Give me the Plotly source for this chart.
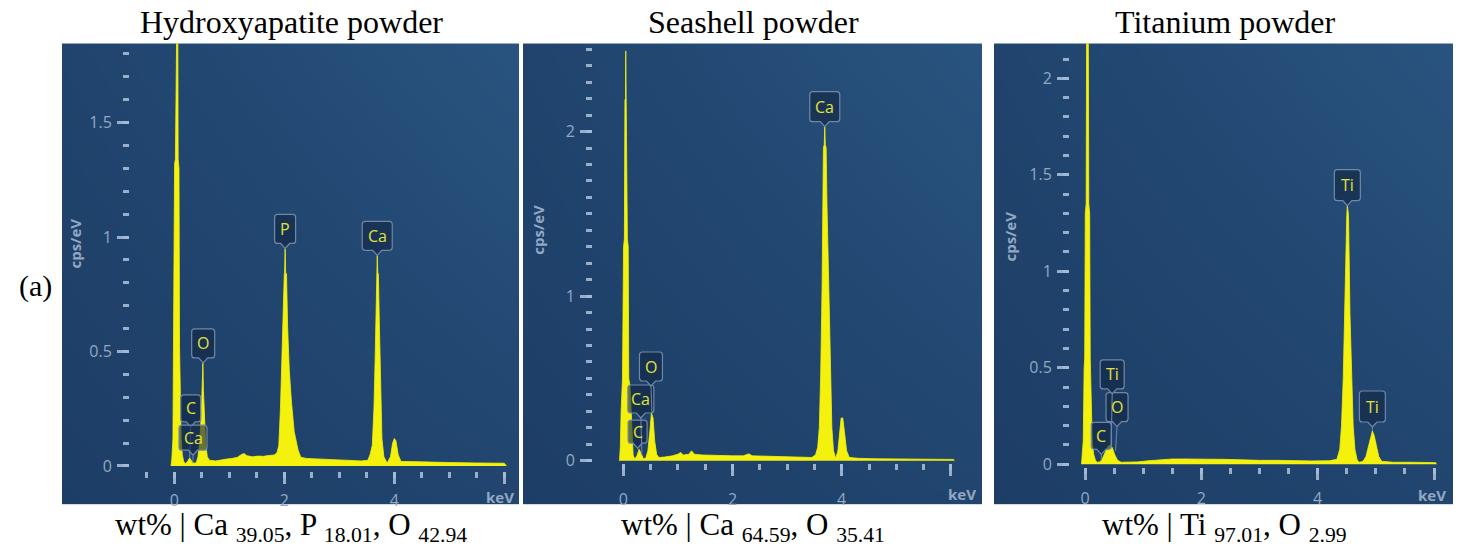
import plotly.graph_objects as go

W, H = 1464, 554

# ---------------- EDS spectra: energy (keV) / intensity (cps/eV) ----------------
hap_kev = [-0.06, -0.045, -0.025, -0.015, -0.005, 0.005, 0.02, 0.03, 0.06, 0.07, 0.085, 0.095,
           0.11, 0.125, 0.145, 0.17, 0.2, 0.24, 0.28, 0.32, 0.36, 0.4, 0.43, 0.46, 0.49, 0.51,
           0.52, 0.53, 0.55, 0.57, 0.6, 0.64, 0.75, 0.85, 0.95, 1.05, 1.15, 1.22, 1.27, 1.32,
           1.42, 1.52, 1.62, 1.72, 1.82, 1.87, 1.9, 1.93, 1.95, 1.97, 1.99, 2.0, 2.005, 2.015,
           2.025, 2.04, 2.06, 2.09, 2.13, 2.18, 2.25, 2.3, 2.4, 2.6, 2.8, 3.0, 3.2, 3.4, 3.52,
           3.56, 3.6, 3.63, 3.65, 3.665, 3.675, 3.68, 3.69, 3.7, 3.71, 3.73, 3.755, 3.775, 3.81,
           3.87, 3.93, 3.97, 4.0, 4.03, 4.07, 4.12, 4.3, 4.6, 5.0, 5.5, 6.0, 6.04]
hap_cps = [0.0, 0.03, 0.12, 0.5, 0.52, 1.32, 1.34, 2.3, 2.3, 1.34, 1.3, 0.52,
           0.3, 0.12, 0.05, 0.02, 0.01, 0.02, 0.035, 0.02, 0.012, 0.015, 0.04, 0.1, 0.22, 0.33,
           0.45, 0.33, 0.22, 0.1, 0.04, 0.025, 0.022, 0.027, 0.03, 0.033, 0.038, 0.05, 0.054, 0.045,
           0.04, 0.043, 0.042, 0.046, 0.048, 0.06, 0.09, 0.25, 0.45, 0.6, 0.75, 0.84, 0.84, 0.95,
           0.84, 0.84, 0.61, 0.42, 0.28, 0.15, 0.07, 0.038, 0.033, 0.031, 0.028, 0.026, 0.024, 0.022, 0.025,
           0.05, 0.09, 0.25, 0.45, 0.65, 0.84, 0.84, 0.92, 0.84, 0.84, 0.6, 0.35, 0.12, 0.04,
           0.013, 0.04, 0.1, 0.12, 0.11, 0.05, 0.02, 0.019, 0.016, 0.015, 0.013, 0.012, 0.0]

shell_kev = [-0.07, -0.055, -0.04, -0.03, -0.015, 0.005, 0.02, 0.03, 0.04, 0.045, 0.05, 0.06,
             0.075, 0.09, 0.1, 0.125, 0.14, 0.16, 0.18, 0.21, 0.25, 0.29, 0.33, 0.37, 0.41, 0.45,
             0.49, 0.515, 0.545, 0.575, 0.61, 0.65, 0.75, 0.9, 1.0, 1.05, 1.1, 1.2, 1.25, 1.3,
             1.45, 1.6, 1.8, 2.0, 2.2, 2.3, 2.36, 2.6, 2.9, 3.2, 3.45, 3.52, 3.56, 3.59, 3.615,
             3.64, 3.655, 3.665, 3.68, 3.69, 3.7, 3.715, 3.73, 3.76, 3.79, 3.82, 3.85, 3.89, 3.93,
             3.96, 3.99, 4.02, 4.05, 4.09, 4.14, 4.3, 4.6, 5.0, 5.5, 6.05, 6.06]
shell_cps = [0.0, 0.08, 0.3, 0.47, 0.5, 1.3, 1.35, 2.19, 2.2, 2.49, 2.2, 2.19,
             1.35, 1.3, 0.5, 0.45, 0.3, 0.11, 0.035, 0.01, 0.03, 0.07, 0.04, 0.012, 0.015, 0.06,
             0.19, 0.29, 0.26, 0.12, 0.04, 0.02, 0.022, 0.03, 0.04, 0.05, 0.035, 0.04, 0.06, 0.04,
             0.035, 0.033, 0.032, 0.03, 0.03, 0.042, 0.03, 0.028, 0.025, 0.022, 0.02, 0.035, 0.08, 0.2, 0.52,
             1.04, 1.56, 1.9, 1.92, 2.03, 1.92, 1.9, 1.56, 1.04, 0.52, 0.2, 0.06, 0.015, 0.06,
             0.18, 0.26, 0.26, 0.18, 0.06, 0.02, 0.015, 0.012, 0.011, 0.01, 0.008, 0.0]

ti_kev = [-0.06, -0.045, -0.03, -0.015, -0.005, 0.005, 0.02, 0.03, 0.055, 0.065, 0.08, 0.09,
          0.105, 0.125, 0.15, 0.18, 0.21, 0.26, 0.3, 0.34, 0.39, 0.43, 0.47, 0.51, 0.56, 0.62,
          0.75, 0.9, 1.1, 1.3, 1.5, 1.7, 1.9, 2.1, 2.4, 2.7, 3.0, 3.3, 3.6, 3.9, 4.2, 4.33,
          4.38, 4.41, 4.44, 4.465, 4.49, 4.5, 4.51, 4.52, 4.53, 4.555, 4.58, 4.61, 4.64, 4.68,
          4.72, 4.78, 4.83, 4.88, 4.92, 4.94, 4.97, 5.01, 5.05, 5.1, 5.3, 5.6, 6.03, 6.04]
ti_cps = [0.0, 0.05, 0.12, 0.5, 0.55, 1.3, 1.35, 2.5, 2.5, 1.35, 1.3, 0.55,
          0.3, 0.11, 0.05, 0.02, 0.01, 0.012, 0.03, 0.06, 0.09, 0.1, 0.085, 0.05, 0.02, 0.01,
          0.01, 0.012, 0.018, 0.022, 0.027, 0.027, 0.028, 0.026, 0.025, 0.022, 0.02, 0.02, 0.018, 0.017, 0.018, 0.025,
          0.077, 0.2, 0.45, 0.8, 1.29, 1.29, 1.34, 1.29, 1.29, 0.78, 0.45, 0.2, 0.077, 0.02,
          0.01, 0.015, 0.04, 0.1, 0.16, 0.172, 0.15, 0.1, 0.04, 0.015, 0.01, 0.01, 0.008, 0.0]

# ---------------- peak identifications ----------------
hap_lbl_text = ["C", "Ca", "O", "P", "Ca"]
hap_lbl_kev = [0.28, 0.34, 0.525, 2.015, 3.69]
hap_lbl_cps = [0.035, 0.012, 0.45, 0.95, 0.92]

shell_lbl_text = ["C", "Ca", "O", "Ca"]
shell_lbl_kev = [0.28, 0.34, 0.525, 3.69]
shell_lbl_cps = [0.07, 0.035, 0.29, 2.03]

ti_lbl_text = ["C", "O", "Ti", "Ti", "Ti"]
ti_lbl_kev = [0.28, 0.525, 0.45, 4.51, 4.94]
ti_lbl_cps = [0.02, 0.07, 0.1, 1.34, 0.172]

# ---------------- text ----------------
titles = ["Hydroxyapatite powder", "Seashell powder", "Titanium powder"]
captions = ["wt% | Ca <sub>39.05</sub>, P <sub>18.01</sub>, O <sub>42.94</sub>",
            "wt% | Ca <sub>64.59</sub>, O <sub>35.41</sub>",
            "wt% | Ti <sub>97.01</sub>, O <sub>2.99</sub>"]
y_major = [[0, 0.5, 1, 1.5], [0, 1, 2], [0, 0.5, 1, 1.5, 2]]
y_major_text = [["0", "0.5", "1", "1.5"], ["0", "1", "2"], ["0", "0.5", "1", "1.5", "2"]]
y_minor_max = [1.8, 2.5, 2.1]
x_major = [0, 2, 4, 6]
x_major_text = ["0", "2", "4", " "]
x_minor_start = [-0.5, 0.0, 0.0]

# ---------------- styling / layout geometry (pixels) ----------------
YELLOW = "#f4f20c"
TICK_C = "rgba(165,186,212,0.9)"
LABEL_C = "#93a8c3"
BOX_FILL = "rgba(18,38,66,0.62)"
BOX_LINE = "#7088a6"
TXT_Y = "#e3e13c"
SERIF = "Liberation Serif, Times New Roman, serif"
SANS = "Open Sans, Noto Sans, sans-serif"

# panel frame, plot box, calibration (px of 0 keV, px per keV, px of 0 cps, px per cps/eV),
# and the gap between x ticks and their labels
panels = [
    dict(frame=(62, 519, 44, 512), plot=(130, 515, 44, 477.5), x0=174.3, pk=55.0, y0=472.8, pc=232.3,
         xstand=3, title_x=291, cap_x=291, ylab=(75, 247), kev=(500, 504)),
    dict(frame=(523, 982, 44, 512), plot=(593, 978, 44, 470), x0=623.3, pk=54.6, y0=467.5, pc=167.0,
         xstand=10, title_x=753, cap_x=753, ylab=(538, 233), kev=(962, 501)),
    dict(frame=(994, 1453, 44, 512), plot=(1070, 1450, 44, 473.5), x0=1085.0, pk=58.17, y0=471.0, pc=195.75,
         xstand=5, title_x=1225, cap_x=1224, ylab=(1010, 240), kev=(1432, 502)),
]

# box offsets of each tag: (dx, dy) from peak to tag tip, width, height (px)
tag_geom = [
    [(1, 31, 20, 27), (0, 8, 28, 25), (0, 0, 23, 29), (0, 0, 21, 29), (0, 0, 30, 29)],
    [(-1, 1, 19, 23), (-1, 37, 26, 28), (-1, 27, 23, 29), (0, 0, 30, 30)],
    [(0, 6, 20, 27), (1.5, 24, 22, 29), (1, 51, 24, 29), (0, 0, 26, 31), (0, 4, 26, 31)],
]

spectra = [(hap_kev, hap_cps), (shell_kev, shell_cps), (ti_kev, ti_cps)]
tags = [(hap_lbl_text, hap_lbl_kev, hap_lbl_cps),
        (shell_lbl_text, shell_lbl_kev, shell_lbl_cps),
        (ti_lbl_text, ti_lbl_kev, ti_lbl_cps)]


def px2paper_x(px):
    return px / W


def px2paper_y(py):
    return 1 - py / H


def paper_text(px, py, text, font, **kw):
    return dict(x=px2paper_x(px), y=px2paper_y(py), xref="paper", yref="paper", text=text,
                showarrow=False, xanchor="center", yanchor="middle", font=font, **kw)


fig = go.Figure()
layout = dict(width=W, height=H, margin=dict(l=0, r=0, t=0, b=0),
              paper_bgcolor="white", plot_bgcolor="rgba(0,0,0,0)", showlegend=False)
shapes, annotations = [], []

# background gradients first (axes 1-3), spectra on top (axes 4-6)
for i, p in enumerate(panels):
    n = i + 1
    sfx = str(n) if n > 1 else ""
    fl, fr, ft, fb = p["frame"]
    layout["xaxis" + sfx] = dict(domain=[px2paper_x(fl), px2paper_x(fr)], range=[0, 1],
                                 visible=False, fixedrange=True)
    layout["yaxis" + sfx] = dict(domain=[px2paper_y(fb), px2paper_y(ft)], range=[0, 1],
                                 visible=False, fixedrange=True)
    fig.add_trace(go.Heatmap(x=[0, 1], y=[0, 1], z=[[0.1, 0.45], [0.4, 1.0]], zsmooth="best",
                             zmin=0, zmax=1, showscale=False, hoverinfo="skip",
                             colorscale=[[0, "rgb(28,59,99)"], [0.5, "rgb(33,70,112)"], [1, "rgb(41,84,127)"]],
                             xaxis="x" + sfx, yaxis="y" + sfx))

for i, p in enumerate(panels):
    n = i + 4
    xa, ya = f"x{n}", f"y{n}"
    pl, pr, pt, pb = p["plot"]
    xr = [(pl - p["x0"]) / p["pk"], (pr - p["x0"]) / p["pk"]]
    yr = [(p["y0"] - pb) / p["pc"], (p["y0"] - pt) / p["pc"]]
    minor_x = [x_minor_start[i] + 0.5 * k for k in range(int(round((6 - x_minor_start[i]) / 0.5)) + 1)]
    minor_y = [round(0.1 * k, 2) for k in range(int(round(y_minor_max[i] / 0.1)) + 1)]
    layout[f"xaxis{n}"] = dict(
        domain=[px2paper_x(pl), px2paper_x(pr)], range=xr, anchor=ya,
        showgrid=False, zeroline=False, showline=False, fixedrange=True,
        ticks="outside", ticklen=12, tickwidth=2.5, tickcolor=TICK_C,
        tickmode="array", tickvals=x_major, ticktext=x_major_text,
        tickfont=dict(family=SANS, size=16, color=LABEL_C), ticklabelstandoff=p["xstand"],
        minor=dict(tickmode="array", tickvals=minor_x, ticks="outside", ticklen=6,
                   tickwidth=2.5, tickcolor=TICK_C, showgrid=False))
    layout[f"yaxis{n}"] = dict(
        domain=[px2paper_y(pb), px2paper_y(pt)], range=yr, anchor=xa,
        showgrid=False, zeroline=False, showline=False, fixedrange=True,
        ticks="outside", ticklen=12, tickwidth=2.5, tickcolor=TICK_C,
        tickmode="array", tickvals=y_major[i], ticktext=y_major_text[i],
        tickfont=dict(family=SANS, size=16, color=LABEL_C), ticklabelstandoff=2,
        minor=dict(tickmode="array", tickvals=minor_y, ticks="outside", ticklen=6,
                   tickwidth=2.5, tickcolor=TICK_C, showgrid=False))

    kev, cps = spectra[i]
    fig.add_trace(go.Scatter(x=kev, y=cps, mode="lines", fill="tozeroy", fillcolor=YELLOW,
                             line=dict(color=YELLOW, width=0.8), hoverinfo="skip",
                             xaxis=xa, yaxis=ya))

    # element tags: leader line + rounded box with a pointer + symbol
    names, tk, tc = tags[i]
    for (name, k, c), (dx, dy, bw, bh) in zip(zip(names, tk, tc), tag_geom[i]):
        if dx or dy:
            shapes.append(dict(type="line", xref=xa, yref=ya, xsizemode="pixel", ysizemode="pixel",
                               xanchor=k, yanchor=c, x0=0, y0=0, x1=dx, y1=dy,
                               line=dict(color=BOX_LINE, width=1)))
        ph, b, r = 5, 4.5, 3
        hw = bw / 2
        yb, yt = dy + ph, dy + ph + bh
        path = (f"M {dx},{dy} L {dx + b},{yb} L {dx + hw - r},{yb} Q {dx + hw},{yb} {dx + hw},{yb + r} "
                f"L {dx + hw},{yt - r} Q {dx + hw},{yt} {dx + hw - r},{yt} L {dx - hw + r},{yt} "
                f"Q {dx - hw},{yt} {dx - hw},{yt - r} L {dx - hw},{yb + r} Q {dx - hw},{yb} {dx - hw + r},{yb} "
                f"L {dx - b},{yb} Z")
        shapes.append(dict(type="path", xref=xa, yref=ya, xsizemode="pixel", ysizemode="pixel",
                           xanchor=k, yanchor=c, path=path, fillcolor=BOX_FILL,
                           line=dict(color=BOX_LINE, width=1.2)))
        annotations.append(dict(x=k, y=c, xref=xa, yref=ya, text=name, showarrow=False,
                                xshift=dx, yshift=dy + ph + bh / 2, xanchor="center", yanchor="middle",
                                font=dict(family=SANS, size=16, color=TXT_Y)))

    # axis captions inside the spectrum frame
    annotations.append(paper_text(p["ylab"][0], p["ylab"][1], "<b>cps/eV</b>",
                                  dict(family=SANS, size=15, color=LABEL_C), textangle=-90))
    annotations.append(paper_text(p["kev"][0], p["kev"][1], "<b>keV</b>",
                                  dict(family=SANS, size=15, color=LABEL_C)))
    # panel title and composition
    annotations.append(paper_text(p["title_x"], 22, titles[i],
                                  dict(family=SERIF, size=32, color="black")))
    annotations.append(paper_text(p["cap_x"], 535, captions[i],
                                  dict(family=SERIF, size=31, color="black")))

annotations.append(paper_text(35, 290, "(a)", dict(family=SERIF, size=30, color="black")))

layout["shapes"] = shapes
layout["annotations"] = annotations
fig.update_layout(**layout)
fig.write_html("out.html")
